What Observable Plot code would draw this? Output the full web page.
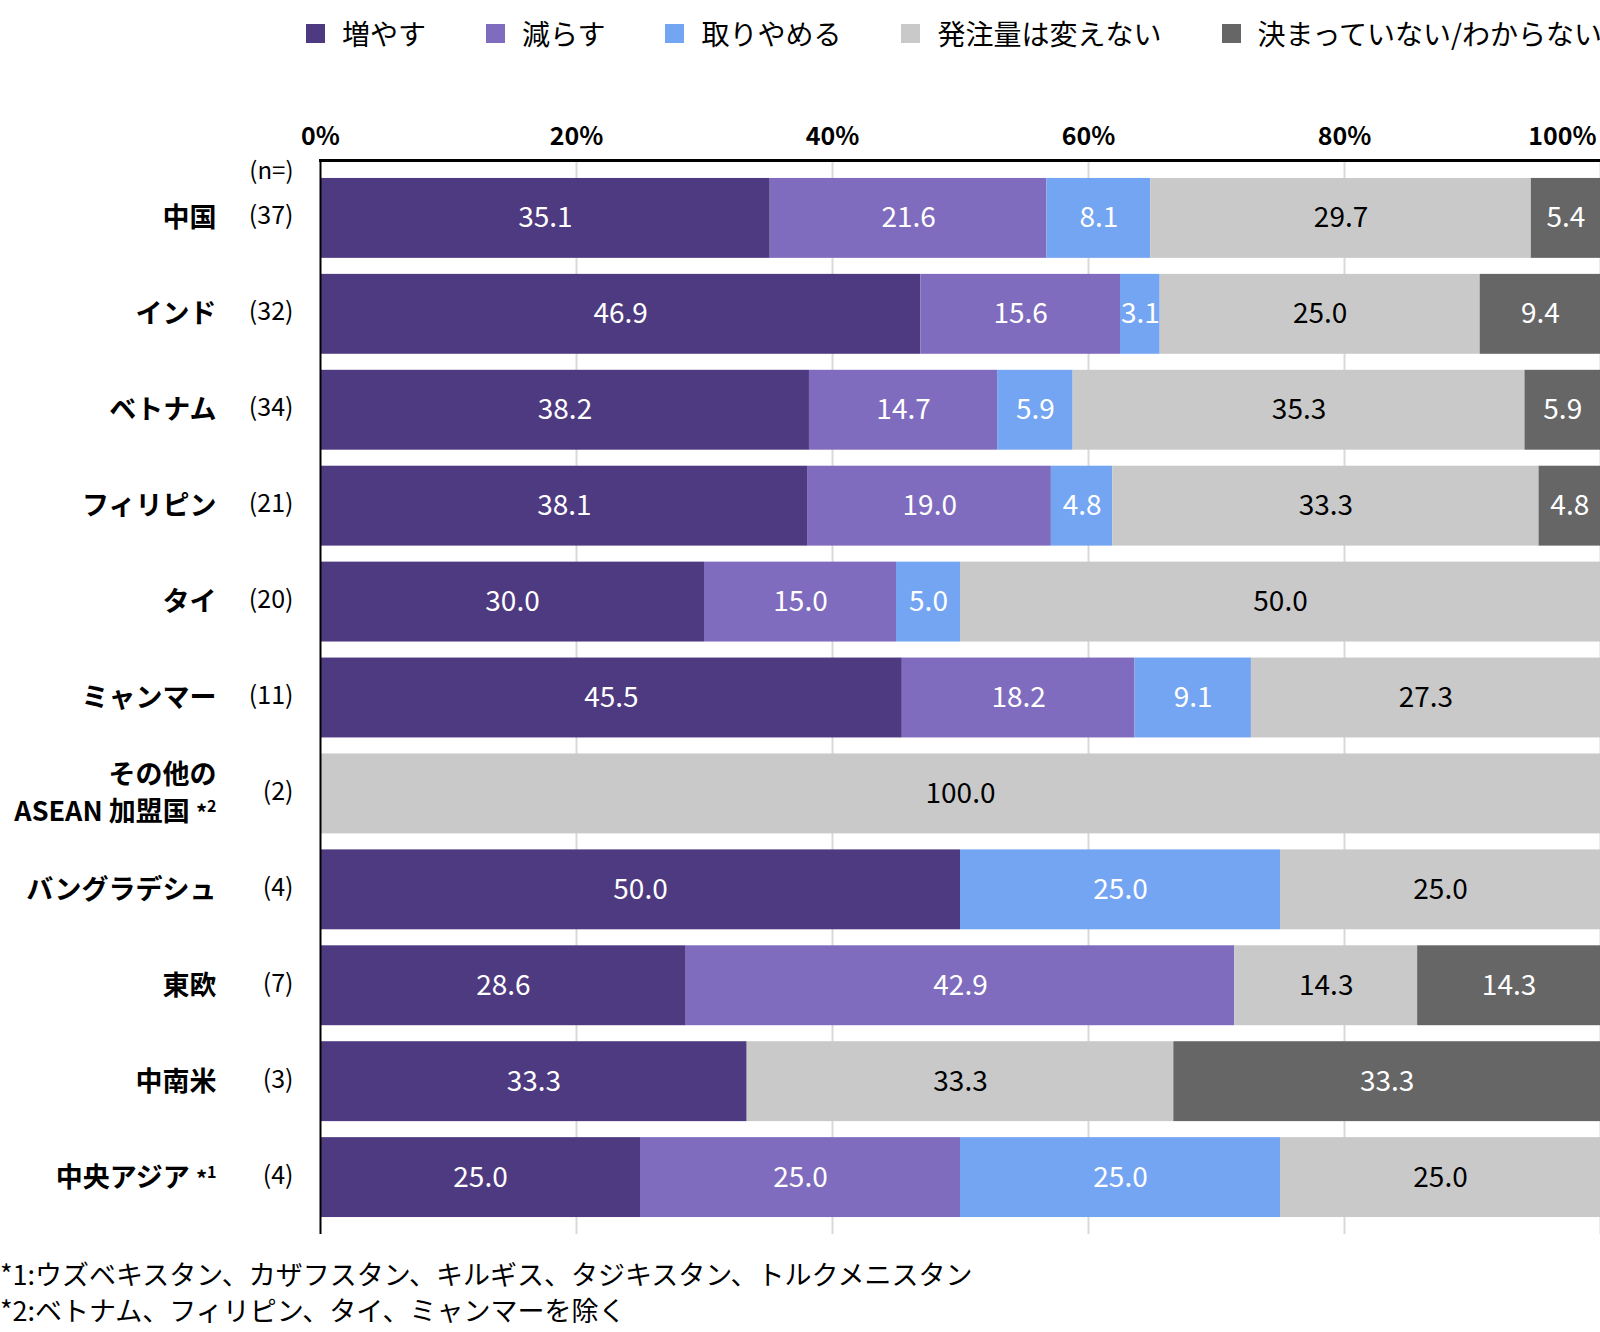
<!DOCTYPE html>
<html>
<head>
<meta charset="utf-8">
<script src="https://cdn.jsdelivr.net/npm/d3@7"></script>
<script src="https://cdn.jsdelivr.net/npm/@observablehq/plot@0.6"></script>
<style>
  html, body { margin: 0; padding: 0; background: #fff; }
  body { width: 1600px; height: 1332px; overflow: hidden; font-family: "Noto Sans CJK JP", "Noto Sans", sans-serif; }
  #legend { height: 66px; width: 1600px; display: flex; align-items: center; padding-left: 306px; box-sizing: border-box; white-space: nowrap; overflow: visible; }
  div.lg-swatches { display: flex !important; flex-wrap: nowrap !important; align-items: center; margin: 0 !important; min-height: 0 !important; font-size: 28px !important; color: #000; white-space: nowrap; width: max-content; }
  div.lg-swatches span.lg-swatch { margin-right: 60px !important; display: inline-flex; align-items: center; white-space: nowrap; }
  div.lg-swatches span.lg-swatch > svg { margin-right: 17px !important; flex-shrink: 0; }
  #chart svg { display: block; }
  #notes { padding-top: 12px; font-size: 27px; line-height: 36px; color: #000; white-space: nowrap; }
</style>
</head>
<body>
<div id="legend"></div>
<div id="chart"></div>
<div id="notes"></div>
<script>
const categories = ["中国", "インド", "ベトナム", "フィリピン", "タイ", "ミャンマー", "その他の\nASEAN 加盟国 *2", "バングラデシュ", "東欧", "中南米", "中央アジア *1"];
const counts = ["(37)", "(32)", "(34)", "(21)", "(20)", "(11)", "(2)", "(4)", "(7)", "(3)", "(4)"];
const series = ["増やす", "減らす", "取りやめる", "発注量は変えない", "決まっていない/わからない"];
const colors = ["#4e3a80", "#7f6cbe", "#74a5f2", "#c9c9c9", "#666666"];
const increase  = [35.1, 46.9, 38.2, 38.1, 30.0, 45.5, 0, 50.0, 28.6, 33.3, 25.0];
const decrease  = [21.6, 15.6, 14.7, 19.0, 15.0, 18.2, 0, 0, 42.9, 0, 25.0];
const stop      = [8.1, 3.1, 5.9, 4.8, 5.0, 9.1, 0, 25.0, 0, 0, 25.0];
const unchanged = [29.7, 25.0, 35.3, 33.3, 50.0, 27.3, 100.0, 25.0, 14.3, 33.3, 25.0];
const undecided = [5.4, 9.4, 5.9, 4.8, 0, 0, 0, 0, 14.3, 33.3, 0];
const xTicks = [0, 0.2, 0.4, 0.6, 0.8];
const xLastTick = [1];
const footnotes = ["*1:ウズベキスタン、カザフスタン、キルギス、タジキスタン、トルクメニスタン", "*2:ベトナム、フィリピン、タイ、ミャンマーを除く"];

const seriesValues = [increase, decrease, stop, unchanged, undecided];
const data = [];
categories.forEach((c, i) => {
  series.forEach((s, j) => {
    data.push({cat: c, series: s, value: seriesValues[j][i]});
  });
});
const labelRows = categories.map((c, i) => ({cat: c, n: counts[i]}));

const font = '"Noto Sans CJK JP", "Noto Sans", sans-serif';
const lightSeries = "発注量は変えない";

// Legend
const legend = Plot.legend({
  color: {type: "ordinal", domain: series, range: colors},
  swatchSize: 19,
  className: "lg",
  style: {fontFamily: font, fontSize: "28px"}
});
document.getElementById("legend").appendChild(legend);

const stackOpts = {offset: "normalize"};
const pct = d => Math.round(d * 100) + "%";
const chart = Plot.plot({
  width: 1600,
  height: 1178,
  marginTop: 94,
  marginBottom: 10,
  marginLeft: 320,
  marginRight: 0,
  style: {fontFamily: font, fontSize: "26px", color: "#000", background: "#fff"},
  x: {domain: [0, 1], axis: null, label: null},
  y: {domain: categories, axis: null, round: false, paddingInner: 0.167, paddingOuter: 0.083, insetTop: 10, insetBottom: 9},
  color: {domain: series, range: colors},
  marks: [
    Plot.gridX([0.2, 0.4, 0.6, 0.8, 1], {stroke: "#d9d9d9", strokeOpacity: 1, strokeWidth: 2}),
    Plot.barX(data, Plot.stackX(stackOpts, {x: "value", y: "cat", fill: "series"})),
    Plot.ruleX([0], {stroke: "#000", strokeWidth: 2}),
    Plot.frame({anchor: "top", stroke: "#000", strokeWidth: 3}),
    Plot.axisX(xTicks, {anchor: "top", label: null, tickSize: 0, tickPadding: 16, tickFormat: pct, fontWeight: "bold", fontSize: 25}),
    Plot.axisX(xLastTick, {anchor: "top", label: null, tickSize: 0, tickPadding: 16, tickFormat: pct, fontWeight: "bold", fontSize: 25, textAnchor: "end", dx: -4}),
    Plot.text(data, Plot.stackX(stackOpts, {
      x: "value", y: "cat", z: "series",
      text: d => (d.value > 0 && d.series !== lightSeries) ? d.value.toFixed(1) : null,
      fill: "white", fontSize: 28
    })),
    Plot.text(data, Plot.stackX(stackOpts, {
      x: "value", y: "cat", z: "series",
      text: d => (d.value > 0 && d.series === lightSeries) ? d.value.toFixed(1) : null,
      fill: "black", fontSize: 28
    })),
    Plot.text(labelRows, {y: "cat", text: "cat", frameAnchor: "left", dx: -104, dy: -3, textAnchor: "end", fontWeight: "bold", fontSize: 27, lineHeight: 1.38}),
    Plot.text(labelRows, {y: "cat", text: "n", frameAnchor: "left", dx: -27, dy: -2, textAnchor: "end", fontSize: 25}),
    Plot.text(["(n=)"], {frameAnchor: "top-left", dx: -27, dy: 1, textAnchor: "end", fontSize: 24})
  ]
});
document.getElementById("chart").appendChild(chart);

// superscript footnote markers
const ns = "http://www.w3.org/2000/svg";
chart.querySelectorAll("text, tspan").forEach(el => {
  if (el.children.length) return;
  const m = el.textContent.match(/^(.*) \*(\d)$/);
  if (!m) return;
  el.textContent = m[1] + " ";
  const star = document.createElementNS(ns, "tspan");
  star.textContent = "*";
  star.setAttribute("font-size", "22");
  el.appendChild(star);
  const num = document.createElementNS(ns, "tspan");
  num.textContent = m[2];
  num.setAttribute("font-size", "16");
  num.setAttribute("dy", "-9");
  el.appendChild(num);
});

const notes = document.getElementById("notes");
footnotes.forEach(t => {
  const d = document.createElement("div");
  d.textContent = t;
  notes.appendChild(d);
});
</script>
</body>
</html>
